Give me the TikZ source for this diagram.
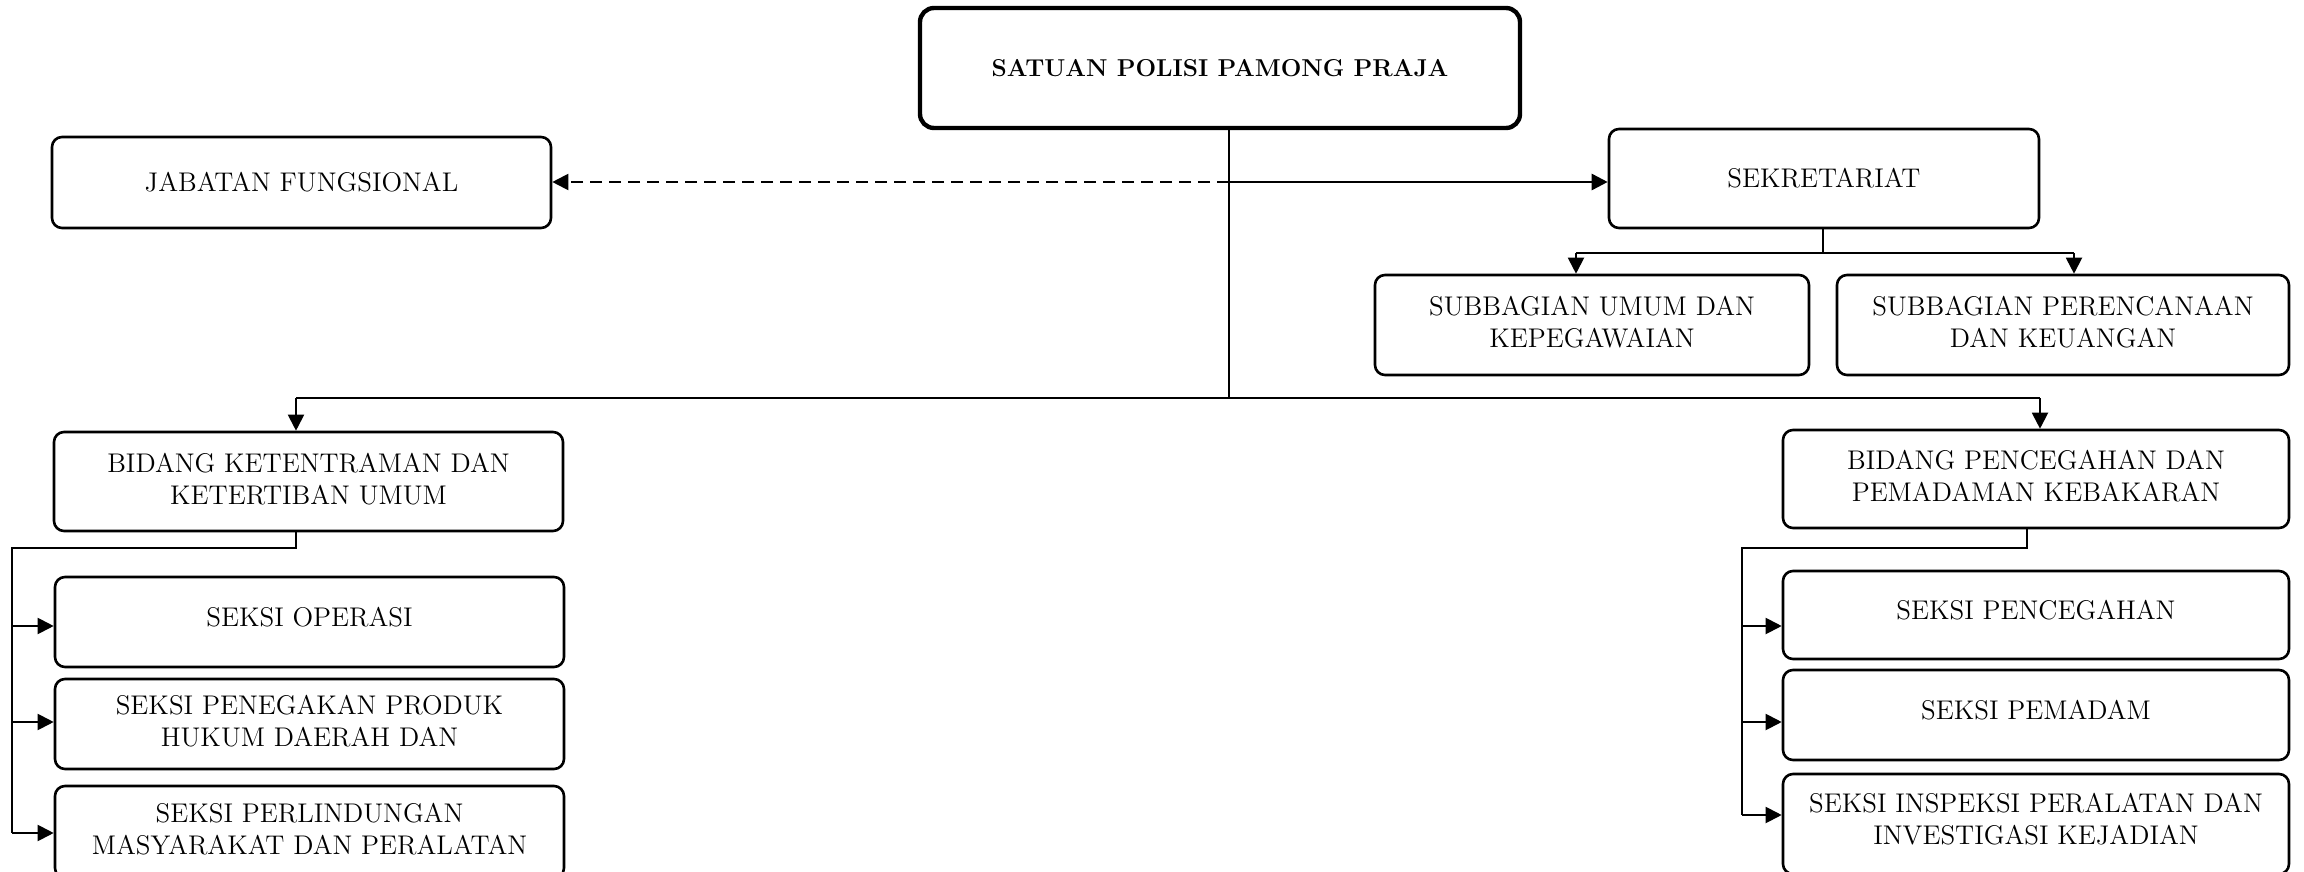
\documentclass[tikz,border=0pt]{standalone}
\usetikzlibrary{arrows.meta}
\begin{document}
\begin{tikzpicture}[x=0.5pt,y=-0.5pt,
  box/.style={draw, rounded corners=5pt, line width=1.3pt, align=center,
    font=\fontsize{13.5}{16}\selectfont, inner sep=0pt},
  twoline/.style={text depth=3pt},
  conn/.style={line width=1pt},
  arr/.style={-{Triangle[length=8pt,width=8pt]}},
  dashline/.style={line width=1pt, dash pattern=on 6pt off 3.5pt},
]
\useasboundingbox (0,0) rectangle (2304,872);
\clip (0,0) rectangle (2304,872);
% nodes
\node[box, line width=2.2pt, rounded corners=7pt, minimum width=300pt, minimum height=60pt,
  font=\fontsize{12.2}{14}\selectfont\bfseries] (T) at (1220,68) {SATUAN POLISI PAMONG PRAJA};
\node[box, minimum width=249.5pt, minimum height=45.5pt] (JF) at (301.5,182.5) {JABATAN FUNGSIONAL};
\node[box, minimum width=215pt, minimum height=49.5pt] (SEK) at (1824,178.5) {SEKRETARIAT};
\node[box, twoline, minimum width=217pt, minimum height=50pt] (SU) at (1592,325) {SUBBAGIAN UMUM DAN\\KEPEGAWAIAN};
\node[box, twoline, minimum width=226pt, minimum height=50pt] (SP) at (2063,325) {SUBBAGIAN PERENCANAAN\\DAN KEUANGAN};
\node[box, twoline, minimum width=254.5pt, minimum height=49.5pt] (BK) at (308.5,481.5) {BIDANG KETENTRAMAN DAN\\KETERTIBAN UMUM};
\node[box, minimum width=254.5pt, minimum height=45pt, text depth=5pt] (SO) at (309.5,622) {SEKSI OPERASI};
\node[box, twoline, minimum width=254.5pt, minimum height=45pt] (SPP) at (309.5,724) {SEKSI PENEGAKAN PRODUK\\HUKUM DAERAH DAN};
\node[box, twoline, minimum width=254.5pt, minimum height=46pt] (SPL) at (309.5,832) {SEKSI PERLINDUNGAN\\MASYARAKAT DAN PERALATAN};
\node[box, twoline, minimum width=253pt, minimum height=49pt] (BP) at (2036,479) {BIDANG PENCEGAHAN DAN\\PEMADAMAN KEBAKARAN};
\node[box, minimum width=253pt, minimum height=44pt, text depth=5pt] (SPc) at (2036,615) {SEKSI PENCEGAHAN};
\node[box, minimum width=253pt, minimum height=45pt, text depth=5pt] (SPm) at (2036,715) {SEKSI PEMADAM};
\node[box, minimum width=253pt, minimum height=50pt, text depth=5pt] (SI) at (2036,824) {SEKSI INSPEKSI PERALATAN DAN\\INVESTIGASI KEJADIAN};
% coordinates
\coordinate (tv) at (1229,0);
\coordinate (hy) at (0,182);
\coordinate (busy) at (0,398);
\coordinate (b1) at (296,398);
\coordinate (b2) at (2040,398);
\coordinate (s0) at (1823,253);
\coordinate (s1) at (1576,253);
\coordinate (s2) at (2074,253);
\coordinate (k0) at (296,548);
\coordinate (k1) at (12,548);
\coordinate (ka) at (12,626);
\coordinate (kb) at (12,722);
\coordinate (kc) at (12,833);
\coordinate (p0) at (2027,548);
\coordinate (p1) at (1742,548);
\coordinate (pa) at (1742,626);
\coordinate (pb) at (1742,722);
\coordinate (pc) at (1742,815);
% connectors
\draw[conn] (T.south -| tv) -- (tv |- busy);
\draw[conn, line width=1.3pt, arr] (tv |- hy) -- (SEK.west |- hy);
\draw[dashline, arr] (tv |- hy) -- (JF.east |- hy);
\draw[conn] (b1) -- (b2);
\draw[conn, arr] (b1) -- (b1 |- BK.north);
\draw[conn, arr] (b2) -- (b2 |- BP.north);
\draw[conn] (SEK.south -| s0) -- (s0);
\draw[conn] (s1) -- (s2);
\draw[conn, arr] (s1) -- (s1 |- SU.north);
\draw[conn, arr] (s2) -- (s2 |- SP.north);
\draw[conn] (BK.south -| k0) -- (k0) -- (k1) -- (kc);
\draw[conn, arr] (ka) -- (SO.west |- ka);
\draw[conn, arr] (kb) -- (SPP.west |- kb);
\draw[conn, arr] (kc) -- (SPL.west |- kc);
\draw[conn] (BP.south -| p0) -- (p0) -- (p1) -- (pc);
\draw[conn, arr] (pa) -- (SPc.west |- pa);
\draw[conn, arr] (pb) -- (SPm.west |- pb);
\draw[conn, arr] (pc) -- (SI.west |- pc);
\end{tikzpicture}
\end{document}
